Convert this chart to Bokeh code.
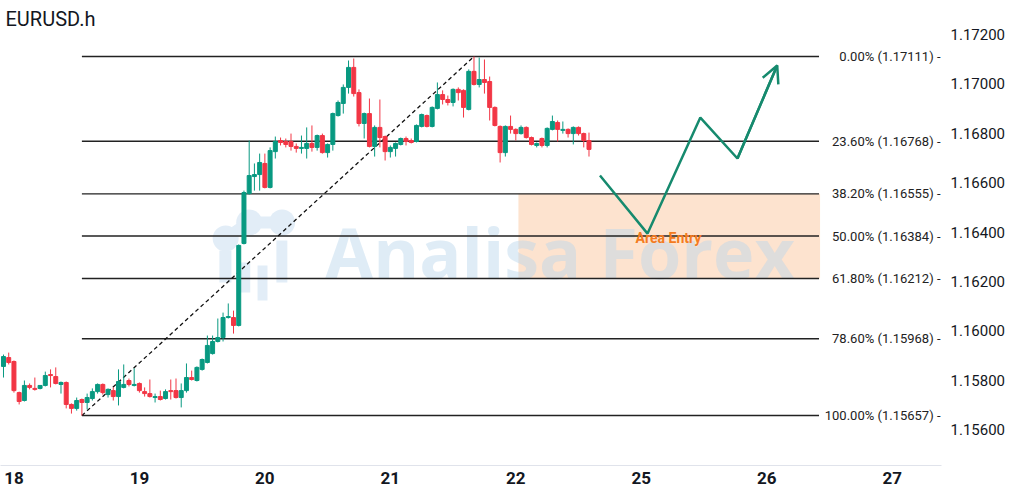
import numpy as np
from bokeh.plotting import figure
from bokeh.models import Range1d, Label, FixedTicker, Arrow, OpenHead, NumeralTickFormatter
from bokeh.core.properties import value
from bokeh.embed import file_html
from bokeh.resources import INLINE

# ---------------- data (EURUSD H1) ----------------
opens = [1.15856, 1.15892, 1.15876, 1.15750, 1.15718, 1.15779, 1.15767, 1.15767, 1.15779, 1.15823,
         1.15815, 1.15783, 1.15791, 1.15702, 1.15686, 1.15722, 1.15710, 1.15726, 1.15754, 1.15783,
         1.15742, 1.15758, 1.15734, 1.15771, 1.15799, 1.15779, 1.15787, 1.15754, 1.15746, 1.15730,
         1.15734, 1.15726, 1.15758, 1.15758, 1.15730, 1.15758, 1.15811, 1.15799, 1.15844, 1.15872,
         1.15908, 1.15957, 1.15973, 1.16054, 1.16054, 1.16022, 1.16354, 1.16556, 1.16625, 1.16633,
         1.16678, 1.16581, 1.16726, 1.16771, 1.16767, 1.16767, 1.16747, 1.16739, 1.16739, 1.16759,
         1.16743, 1.16791, 1.16722, 1.16755, 1.16872, 1.16921, 1.16986, 1.17067, 1.16965, 1.16840,
         1.16880, 1.16747, 1.16824, 1.16787, 1.16726, 1.16739, 1.16755, 1.16779, 1.16771, 1.16767,
         1.16828, 1.16872, 1.16828, 1.16901, 1.16957, 1.16937, 1.16925, 1.16978, 1.16974, 1.16897,
         1.17051, 1.16998, 1.17018, 1.17010, 1.16905, 1.16828, 1.16722, 1.16828, 1.16816, 1.16799,
         1.16824, 1.16783, 1.16751, 1.16779, 1.16751, 1.16816, 1.16844, 1.16812, 1.16816, 1.16799,
         1.16824, 1.16799, 1.16771]
highs = [1.15904, 1.15912, 1.15880, 1.15754, 1.15799, 1.15787, 1.15811, 1.15779, 1.15835, 1.15844,
         1.15852, 1.15795, 1.15795, 1.15706, 1.15730, 1.15726, 1.15746, 1.15767, 1.15787, 1.15787,
         1.15767, 1.15771, 1.15844, 1.15864, 1.15807, 1.15848, 1.15791, 1.15771, 1.15803, 1.15746,
         1.15758, 1.15763, 1.15803, 1.15807, 1.15787, 1.15868, 1.15839, 1.15856, 1.15888, 1.15981,
         1.15981, 1.16050, 1.16074, 1.16111, 1.16082, 1.16350, 1.16568, 1.16771, 1.16678, 1.16718,
         1.16718, 1.16743, 1.16787, 1.16783, 1.16779, 1.16799, 1.16759, 1.16791, 1.16824, 1.16832,
         1.16795, 1.16799, 1.16759, 1.16884, 1.16933, 1.16998, 1.17095, 1.17103, 1.16978, 1.16884,
         1.16941, 1.16832, 1.16937, 1.16791, 1.16751, 1.16763, 1.16783, 1.16787, 1.16779, 1.16836,
         1.16880, 1.16876, 1.16909, 1.17006, 1.16974, 1.16953, 1.16982, 1.16986, 1.16978, 1.17059,
         1.17111, 1.17107, 1.17099, 1.17030, 1.16909, 1.16832, 1.16832, 1.16872, 1.16820, 1.16832,
         1.16828, 1.16787, 1.16763, 1.16783, 1.16824, 1.16872, 1.16852, 1.16848, 1.16820, 1.16828,
         1.16828, 1.16803, 1.16803]
lows = [1.15811, 1.15864, 1.15750, 1.15702, 1.15714, 1.15763, 1.15758, 1.15763, 1.15775, 1.15771,
        1.15783, 1.15746, 1.15686, 1.15665, 1.15677, 1.15657, 1.15682, 1.15718, 1.15746, 1.15742,
        1.15730, 1.15718, 1.15698, 1.15767, 1.15775, 1.15775, 1.15750, 1.15734, 1.15730, 1.15710,
        1.15718, 1.15722, 1.15722, 1.15726, 1.15690, 1.15750, 1.15799, 1.15795, 1.15839, 1.15868,
        1.15904, 1.15953, 1.15957, 1.16050, 1.15989, 1.16018, 1.16350, 1.16552, 1.16568, 1.16568,
        1.16577, 1.16577, 1.16698, 1.16751, 1.16743, 1.16730, 1.16722, 1.16718, 1.16698, 1.16726,
        1.16730, 1.16718, 1.16702, 1.16730, 1.16868, 1.16880, 1.16961, 1.16949, 1.16828, 1.16779,
        1.16743, 1.16706, 1.16743, 1.16690, 1.16702, 1.16706, 1.16751, 1.16751, 1.16759, 1.16763,
        1.16824, 1.16824, 1.16824, 1.16897, 1.16917, 1.16913, 1.16909, 1.16933, 1.16864, 1.16893,
        1.16994, 1.16986, 1.16961, 1.16852, 1.16828, 1.16682, 1.16706, 1.16799, 1.16771, 1.16795,
        1.16779, 1.16751, 1.16743, 1.16743, 1.16743, 1.16812, 1.16767, 1.16799, 1.16783, 1.16755,
        1.16791, 1.16743, 1.16706]
closes = [1.15896, 1.15872, 1.15758, 1.15714, 1.15779, 1.15771, 1.15763, 1.15779, 1.15819, 1.15819,
          1.15787, 1.15791, 1.15702, 1.15686, 1.15718, 1.15710, 1.15730, 1.15754, 1.15783, 1.15750,
          1.15763, 1.15734, 1.15795, 1.15783, 1.15783, 1.15783, 1.15758, 1.15746, 1.15734, 1.15734,
          1.15722, 1.15754, 1.15754, 1.15730, 1.15758, 1.15811, 1.15803, 1.15852, 1.15884, 1.15941,
          1.15957, 1.15973, 1.16054, 1.16058, 1.16022, 1.16346, 1.16560, 1.16629, 1.16633, 1.16682,
          1.16581, 1.16730, 1.16767, 1.16763, 1.16755, 1.16747, 1.16739, 1.16743, 1.16759, 1.16743,
          1.16791, 1.16722, 1.16755, 1.16880, 1.16925, 1.16986, 1.17067, 1.16961, 1.16840, 1.16880,
          1.16747, 1.16824, 1.16783, 1.16726, 1.16743, 1.16759, 1.16779, 1.16767, 1.16763, 1.16832,
          1.16876, 1.16828, 1.16905, 1.16957, 1.16937, 1.16925, 1.16978, 1.16965, 1.16905, 1.17051,
          1.16998, 1.17018, 1.17006, 1.16905, 1.16832, 1.16722, 1.16828, 1.16816, 1.16799, 1.16824,
          1.16783, 1.16755, 1.16759, 1.16751, 1.16820, 1.16848, 1.16816, 1.16816, 1.16799, 1.16824,
          1.16799, 1.16771, 1.16735]

day_labels = ["18", "19", "20", "21", "22", "25", "26", "27"]
hours_per_day = 24

price_ticks = [1.156, 1.158, 1.160, 1.162, 1.164, 1.166, 1.168, 1.170, 1.172]

fib_ratios = ["0.00%", "23.60%", "38.20%", "50.00%", "61.80%", "78.60%", "100.00%"]
fib_prices = [1.17111, 1.16768, 1.16555, 1.16384, 1.16212, 1.15968, 1.15657]

# projected path (bar index, price)
forecast_x = [114.1, 123.2, 133.3, 140.4, 148.0]
forecast_y = [1.16629, 1.16394, 1.16864, 1.16698, 1.17075]

entry_label = "Area Entry"
watermark = "Analisa Forex"
# ---------------------------------------------------

UP = "#089981"
DOWN = "#F23645"
TEXT = "#131722"
WM = "#e2edf7"

n = len(opens)
xs = np.arange(n)
o = np.array(opens); c = np.array(closes)
colors = [UP if cc >= oo else DOWN for oo, cc in zip(o, c)]

X0, X1 = -0.571, 179.43
Y0, Y1 = 1.1545475, 1.17338

p = figure(width=1008, height=486,
           x_range=Range1d(X0, X1), y_range=Range1d(Y0, Y1),
           y_axis_location="right", output_backend="svg", toolbar_location=None,
           min_border_left=0, min_border_top=0, min_border_right=63, min_border_bottom=21,
           title=None)
p.background_fill_color = "white"
p.border_fill_color = "white"
p.outline_line_color = None
p.grid.visible = False

# Entry zone box (between 38.2% and 61.8%)
p.quad(left=[98.5], right=[156.2], top=[fib_prices[2]], bottom=[fib_prices[4]],
       fill_color="#fde3cf", fill_alpha=1.0, line_color=None)

# Watermark logo (decorative)
p.quad(left=[41.3, 45.1, 48.6, 52.2], right=[43.6, 47.2, 50.5, 54.3],
       top=[1.16326, 1.16277, 1.16265, 1.16366], bottom=[1.16196, 1.16155, 1.16123, 1.16196],
       fill_color=WM, line_color=None)
p.line([42.5, 47.0, 53.3], [1.16374, 1.16439, 1.16439], line_color=WM, line_width=12)
p.scatter([42.5, 47.0, 53.3], [1.16374, 1.16439, 1.16439], marker="circle", size=26,
          fill_color=WM, line_color=None)

# Watermark text
p.text(x=[61.5], y=[1.16318], text=[watermark], text_font=value("Open Sans"),
       text_font_style="bold", text_font_size="70px", text_color="#b9d5ec", text_alpha=0.45,
       text_baseline="middle", text_align="left")

# Fibonacci levels
lo_i = int(np.argmin(lows)); hi_i = int(np.argmax(highs))
p.segment(x0=[lo_i] * len(fib_prices), y0=fib_prices, x1=[156.0] * len(fib_prices), y1=fib_prices,
          line_color="#222222", line_width=1.4)
p.line([lo_i, hi_i], [lows[lo_i], highs[hi_i]], line_color="#111111", line_width=1.3, line_dash="4 3")

fib_text = [f"{r} ({v:.5f}) -" for r, v in zip(fib_ratios, fib_prices)]
p.text(x=[X1] * len(fib_prices), y=fib_prices, text=fib_text, text_font=value("Roboto"),
       text_font_size="13px", text_color="#222222", text_align="right", text_baseline="middle",
       x_offset=-1)

# Candles
p.segment(x0=xs, y0=lows, x1=xs, y1=highs, line_color=colors, line_width=1)
p.vbar(x=xs, width=0.76, top=np.maximum(o, c), bottom=np.minimum(o, c),
       fill_color=colors, line_color=colors, line_width=1)

# Projection path
TEAL = "#168a6e"
p.line(forecast_x, forecast_y, line_color=TEAL, line_width=2.5)
p.add_layout(Arrow(end=OpenHead(size=17, line_color=TEAL, line_width=2.5),
                   x_start=forecast_x[-2], y_start=forecast_y[-2],
                   x_end=forecast_x[-1], y_end=forecast_y[-1],
                   line_color=TEAL, line_width=2.5))

p.text(x=[127.2], y=[1.16378], text=[entry_label], text_font=value("Roboto"),
       text_font_style="bold", text_font_size="14px", text_color="#f47b20",
       text_align="center", text_baseline="middle")

# Title
p.add_layout(Label(x=X0, y=Y1, text="EURUSD.h", text_font="Roboto",
                   text_font_size="20px", text_color=TEXT, text_baseline="top",
                   x_offset=5, y_offset=-6))

# Axes
p.xaxis.ticker = FixedTicker(ticks=[2 + hours_per_day * k for k in range(len(day_labels))])
p.xaxis.major_label_overrides = {2 + hours_per_day * k: lab for k, lab in enumerate(day_labels)}
p.xaxis.major_tick_out = 0
p.xaxis.major_tick_in = 0
p.xaxis.minor_tick_out = 0
p.xaxis.minor_tick_in = 0
p.xaxis.axis_line_color = "#e0e3eb"
p.xaxis.major_label_text_font = "Roboto"
p.xaxis.major_label_text_font_style = "bold"
p.xaxis.major_label_text_font_size = "17px"
p.xaxis.major_label_text_color = TEXT
p.xaxis.major_label_standoff = 6

p.yaxis.ticker = FixedTicker(ticks=price_ticks)
p.yaxis.formatter = NumeralTickFormatter(format="0.00000")
p.yaxis.major_tick_out = 0
p.yaxis.major_tick_in = 0
p.yaxis.minor_tick_out = 0
p.yaxis.minor_tick_in = 0
p.yaxis.axis_line_color = None
p.yaxis.major_label_text_font = "Roboto"
p.yaxis.major_label_text_font_size = "15px"
p.yaxis.major_label_text_color = TEXT
p.yaxis.major_label_standoff = 9

open("out.html", "w").write(file_html(p, INLINE))
